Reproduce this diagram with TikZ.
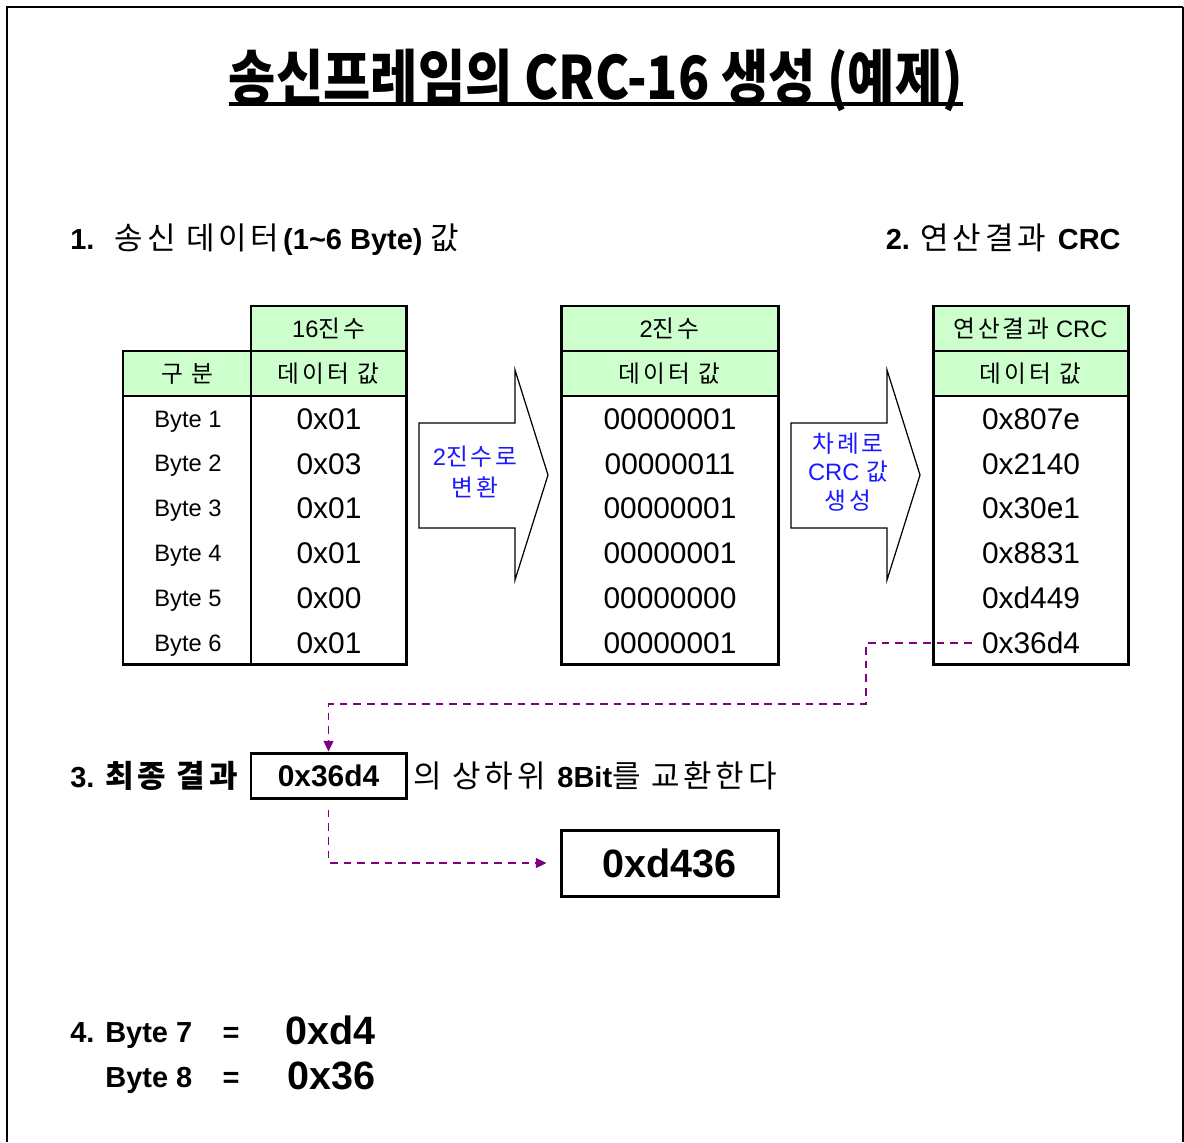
\documentclass[tikz,border=0pt]{standalone}
\usepackage{fontspec}
\setmainfont{Liberation Sans}
\newfontfamily\krfont{Noto Sans CJK KR}[LetterSpace=12]
\newfontfamily\krwide{Noto Sans CJK KR}[LetterSpace=12,Scale=1.07]
\newfontfamily\krhead{Noto Sans CJK KR}
\usetikzlibrary{arrows.meta,calc,positioning}
\definecolor{cellgreen}{HTML}{CCFFCC}
\definecolor{swpurple}{HTML}{800080}
\definecolor{noteblue}{HTML}{1A1AFF}
\newcommand{\kr}[1]{{\krfont #1}}
\newcommand{\krw}[1]{{\krwide #1}}
\newcommand{\fsz}[1]{\fontsize{#1}{1.2\dimexpr#1\relax}\selectfont}
\tikzset{
  hd/.style={draw=black,fill=cellgreen,line width=1.7pt,minimum height=9mm,inner sep=0pt,font=\fsz{13.5pt}},
  col/.style={draw=black,fill=white,line width=1.7pt,minimum height=53.6mm,inner sep=0pt},
  lbl/.style={inner sep=0pt,font=\fsz{13.5pt}},
  val/.style={inner sep=0pt,font=\fsz{17pt}},
  blk/.style={draw=black,fill=white,line width=.7pt,line join=miter},
  note/.style={text=noteblue,align=center,inner sep=0pt,font=\fsz{13.5pt}},
  sec/.style={inner sep=0pt,font=\fsz{16.5pt}},
  box/.style={draw=black,fill=white,line width=1.7pt,inner sep=0pt},
  % the swap path: dashed purple with a filled triangle at the end
  swp/.style={draw=swpurple,line width=1.1pt,dash pattern=on 4.4pt off 3.4pt,
    -{Triangle[length=6pt,width=5.5pt,fill=swpurple]}},
  frm/.style={draw=black,line width=1.7pt},
}

\begin{document}
\begin{tikzpicture}[x=0.2mm,y=-0.2mm]
\useasboundingbox (0,0) rectangle (1184,1142);
\draw[frm] (7,1142) -- (7,7) -- (1183,7);
\draw[frm,line width=1.1pt] (1183,7) -- (1183,1142);

% title
\node[inner sep=0pt,anchor=base] (title) at (596,100)
  {\scalebox{0.86}[1]{\krhead\bfseries\fsz{34pt}송신프레임의 CRC-16 생성 (예제)}};
\draw[line width=2.2pt] ($(title.base west)+(0,4)$) -- ($(title.base east)+(0,4)$);

\node[sec,anchor=base west] (s1) at (70,250)
  {\textbf{1.}\,\, \krw{송신 데이터}\textbf{(1\textasciitilde6 Byte)} \krw{값}};
\node[sec,anchor=base east] (s2) at (1121,250)
  {\textbf{2.} \krw{연산결과} \textbf{CRC}};

% table 1: hex values
\node[hd,minimum width=31mm] (hexh) at (328.5,328.5) {16\kr{진수}};
\node[hd,minimum width=25.6mm] (kindh) at (187,373.5) {\kr{구 분}};
\node[hd,minimum width=31mm] (hexv) at (328.5,373.5) {\kr{데이터 값}};
\node[col,minimum width=25.6mm] (kindc) at (187,530) {};
\node[col,minimum width=31mm] (hexc) at (328.5,530) {};
\foreach \b/\h [count=\i] in {1/01,2/03,3/01,4/01,5/00,6/01}{
  \node[lbl] (byte\i) at (188,376.5+44.8*\i) {Byte \b};
  \node[val] (hex\i) at (329,374.2+44.8*\i) {0x\h};
}

% table 2: binary values
\node[hd,minimum width=43.4mm] (binh) at (669.5,328.5) {2\kr{진수}};
\node[hd,minimum width=43.4mm] (binv) at (669.5,373.5) {\kr{데이터 값}};
\node[col,minimum width=43.4mm] (binc) at (669.5,530) {};
\foreach \v [count=\i] in {00000001,00000011,00000001,00000001,00000000,00000001}
  \node[val] (bin\i) at (670,374.2+44.8*\i) {\v};

% table 3: running CRC
\node[hd,minimum width=39mm] (crch) at (1030.5,328.5) {\kr{연산결과} CRC};
\node[hd,minimum width=39mm] (crcv) at (1030.5,373.5) {\kr{데이터 값}};
\node[col,minimum width=39mm] (crcc) at (1030.5,530) {};
\foreach \v [count=\i] in {807e,2140,30e1,8831,d449,36d4}
  \node[val] (crc\i) at (1031,374.2+44.8*\i) {0x\v};

% block arrows between the tables
\draw[blk] (419,423) -- (515,423) -- (515,370) -- (548,475) -- (515,580)
  -- (515,528) -- (419,528) -- cycle;
\node[note] (tobin) at (475,472) {2\kr{진수로}\\[1pt]\kr{변환}};
\draw[blk] (791,423) -- (887,423) -- (887,370) -- (920,475) -- (887,580)
  -- (887,528) -- (791,528) -- cycle;
\node[note] (tocrc) at (848,472) {\kr{차례로}\\[0pt]CRC \kr{값}\\[0pt]\kr{생성}};

% step 3
\node[sec,anchor=base west] (s3) at (70,787) {\textbf{3.} \krw{\bfseries 최종 결과}};
\node[box,minimum width=31mm,minimum height=9mm,font=\fsz{17pt}\bfseries] (fin) at (328.5,775.5) {0x36d4};
\node[sec,anchor=base west] (s3b) at (413,787) {\krw{의 상하위} \textbf{8Bit}\krw{를 교환한다}};
\node[box,minimum width=43.4mm,minimum height=13.2mm,font=\fsz{22.5pt}\bfseries] (sw) at (669.5,863) {0xd436};

\coordinate (k1) at (866,704);
\draw[swp] ([xshift=-2mm]crc6.west) -| (k1) -| (fin.north);
\draw[swp,shorten >=2.6mm] ([yshift=-2mm]fin.south) |- (sw.west);

% step 4
\node[sec,anchor=base west,font=\fsz{16.5pt}\bfseries] (b7) at (70,1042) {4. Byte 7};
\node[sec,anchor=base,font=\fsz{16.5pt}\bfseries] (eq7) at (231,1042) {=};
\node[sec,anchor=base west,font=\fsz{22.5pt}\bfseries] (v7) at (285,1044) {0xd4};
\node[sec,anchor=base west,font=\fsz{16.5pt}\bfseries] (b8) at (105,1087) {Byte 8};
\node[sec,anchor=base,font=\fsz{16.5pt}\bfseries] (eq8) at (231,1087) {=};
\node[sec,anchor=base west,font=\fsz{22.5pt}\bfseries] (v8) at (287,1089) {0x36};
\end{tikzpicture}
\end{document}
